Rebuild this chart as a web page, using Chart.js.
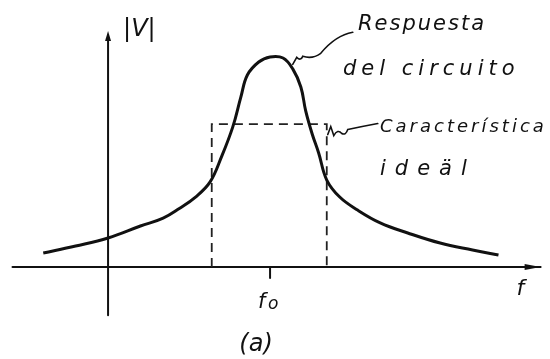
<!DOCTYPE html>
<html>
<head>
<meta charset="utf-8">
<script src="https://cdn.jsdelivr.net/npm/chart.js@4/dist/chart.umd.min.js"></script>
<style>
  html, body { margin: 0; padding: 0; background: #fff; }
  #wrap { width: 550px; height: 359px; position: relative; }
</style>
</head>
<body>
<div id="wrap"><canvas id="resp"></canvas></div>
<script>
// circuit response |V| against frequency (f0 = 1)
const freq = [-0.40, -0.20, 0, 0.20, 0.34, 0.44, 0.54, 0.63, 0.70, 0.77, 0.82, 0.86, 0.93, 1.00,
              1.08, 1.14, 1.19, 1.22, 1.26, 1.30, 1.35, 1.43, 1.54, 1.68, 1.85, 2.05, 2.25, 2.41]
const response = [0.067, 0.100, 0.138, 0.195, 0.233, 0.279, 0.333, 0.405, 0.524, 0.667, 0.810, 0.914, 0.976, 1.000,
                  0.995, 0.943, 0.857, 0.743, 0.633, 0.543, 0.414, 0.333, 0.271, 0.210, 0.162, 0.114, 0.081, 0.057]
// ideal band-pass box
const idealFreq = [0.64, 0.64, 1.35, 1.35]
const idealLevel = [0, 0.68, 0.68, 0]
const f0 = 1.0
const xLabel = 'f'
const yLabel = '|V|'

const toPoints = (xs, ys) => xs.map((x, i) => ({ x: x, y: ys[i] }))

const hand = 'italic 21px "DejaVu Sans"'

const sketchAxes = {
    id: 'sketchAxes',
    beforeDatasetsDraw(chart) {
        const { ctx, scales: { x, y } } = chart
        const x0 = x.getPixelForValue(0)
        const y0 = y.getPixelForValue(0)
        ctx.save()
        ctx.strokeStyle = '#111'
        ctx.fillStyle = '#111'
        ctx.lineWidth = 2
        ctx.lineCap = 'round'
        // horizontal axis
        ctx.beginPath()
        ctx.moveTo(x.getPixelForValue(-0.59), y0)
        ctx.lineTo(x.getPixelForValue(2.67), y0)
        ctx.stroke()
        // vertical axis
        ctx.beginPath()
        ctx.moveTo(x0, y.getPixelForValue(-0.23))
        ctx.lineTo(x0, y.getPixelForValue(1.09))
        ctx.stroke()
        // arrow heads
        const yt = y.getPixelForValue(1.09)
        ctx.beginPath()
        ctx.moveTo(x0 - 3, yt + 3)
        ctx.lineTo(x0, yt - 7)
        ctx.lineTo(x0 + 3, yt + 3)
        ctx.closePath()
        ctx.fill()
        const xr = x.getPixelForValue(2.67)
        ctx.beginPath()
        ctx.moveTo(xr - 16, y0 - 3)
        ctx.lineTo(xr, y0)
        ctx.lineTo(xr - 16, y0 + 3)
        ctx.closePath()
        ctx.fill()
        // f0 tick
        const xf = x.getPixelForValue(f0)
        ctx.beginPath()
        ctx.moveTo(xf, y0)
        ctx.lineTo(xf, y0 + 11)
        ctx.stroke()
        ctx.restore()
    },
    afterDraw(chart) {
        const { ctx, scales: { x, y } } = chart
        const x0 = x.getPixelForValue(0)
        const y0 = y.getPixelForValue(0)
        ctx.save()
        ctx.fillStyle = '#111'
        ctx.strokeStyle = '#111'
        ctx.textBaseline = 'alphabetic'
        ctx.textAlign = 'left'

        ctx.font = 'italic 24px "DejaVu Sans"'
        ctx.fillText(yLabel, x0 + 15, 36)
        ctx.font = 'italic 22px "DejaVu Sans"'
        ctx.fillText(xLabel, x.getPixelForValue(2.67) - 24, y0 + 28)

        // f0 label
        const xf = x.getPixelForValue(f0)
        ctx.font = hand
        ctx.fillText('f', xf - 12, y0 + 41)
        ctx.font = 'italic 17px "DejaVu Sans"'
        ctx.fillText('o', xf - 2, y0 + 42)

        ctx.font = 'italic 24px "DejaVu Sans"'
        ctx.textAlign = 'center'
        ctx.fillText('(a)', xf - 14, y0 + 84)
        ctx.textAlign = 'left'

        // annotations
        ctx.letterSpacing = '2px'
        ctx.font = hand
        ctx.fillText('Respuesta', 358, 30)
        ctx.letterSpacing = '5px'
        ctx.fillText('del circuito', 343, 75)
        ctx.letterSpacing = '3px'
        ctx.font = 'italic 18px "DejaVu Sans"'
        ctx.fillText('Característica', 380, 132)
        ctx.letterSpacing = '9px'
        ctx.font = hand
        ctx.fillText('ideäl', 380, 175)
        ctx.letterSpacing = '0px'

        // leader lines
        ctx.lineWidth = 1.6
        ctx.lineCap = 'round'
        const peakX = x.getPixelForValue(1.14)
        const peakY = y.getPixelForValue(0.96)
        ctx.beginPath()
        ctx.moveTo(peakX, peakY - 1)
        ctx.lineTo(peakX + 4, peakY - 8)
        ctx.quadraticCurveTo(peakX + 8, peakY - 4, peakX + 10, peakY - 9)
        ctx.quadraticCurveTo(peakX + 20, peakY - 6, peakX + 28, peakY - 12)
        ctx.quadraticCurveTo(peakX + 43, peakY - 30, peakX + 60, peakY - 33)
        ctx.stroke()

        const bx = x.getPixelForValue(1.35) + 1
        const by = y.getPixelForValue(0.64)
        ctx.beginPath()
        ctx.moveTo(bx, by + 2)
        ctx.lineTo(bx + 3, by - 6)
        ctx.lineTo(bx + 6, by + 3)
        ctx.quadraticCurveTo(bx + 10, by - 4, bx + 14, by + 1)
        ctx.quadraticCurveTo(bx + 18, by + 3, bx + 20, by - 3)
        ctx.quadraticCurveTo(bx + 34, by - 6, bx + 50, by - 9)
        ctx.stroke()
        ctx.restore()
    }
}

const ctxR = document.getElementById('resp').getContext('2d')
const respChart = new Chart(ctxR, {
    type: 'scatter',
    data: {
        datasets: [{
            label: 'Respuesta del circuito',
            data: toPoints(freq, response),
            showLine: true,
            borderColor: '#111',
            borderWidth: 3,
            pointRadius: 0,
            tension: 0.4,
            fill: false
        }, {
            label: 'Característica ideal',
            data: toPoints(idealFreq, idealLevel),
            showLine: true,
            borderColor: '#222',
            borderWidth: 1.8,
            borderDash: [9, 6],
            pointRadius: 0,
            tension: 0,
            fill: false
        }]
    },
    options: {
        responsive: true,
        maintainAspectRatio: false,
        animation: false,
        layout: { padding: 0, autoPadding: false },
        plugins: { legend: { display: false }, tooltip: { enabled: false } },
        scales: {
            x: { type: 'linear', min: -0.667, max: 2.728, display: false },
            y: { type: 'linear', min: -0.438, max: 1.271, display: false }
        }
    },
    plugins: [sketchAxes]
})
</script>
</body>
</html>
